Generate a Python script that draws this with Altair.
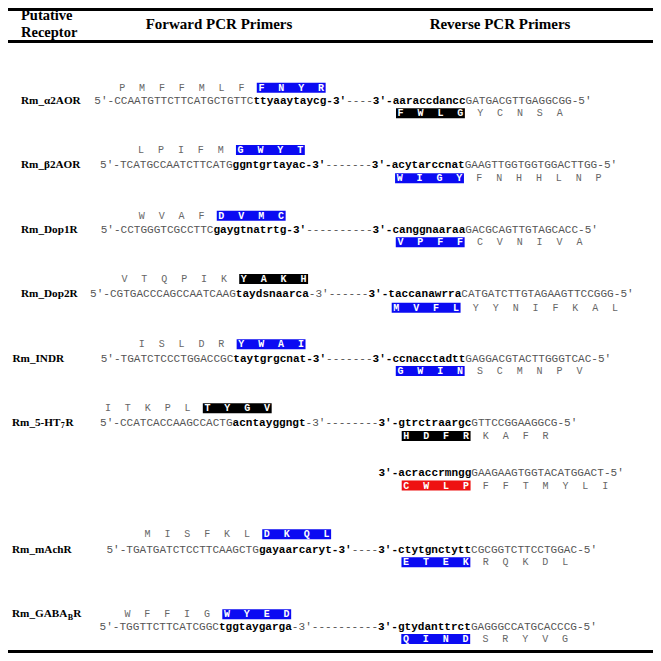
import altair as alt
import pandas as pd

# ---------------- data ----------------
FS = 11.05            # monospace font size
W = 0.6 * FS          # monospace advance width

header_left = ["Putative", "Receptor"]
header_cols = ["Forward PCR Primers", "Reverse PCR Primers"]

label_main = ["Rm_\u03b12AOR", "Rm_\u03b22AOR", "Rm_Dop1R", "Rm_Dop2R", "Rm_INDR", "Rm_5-HT", "Rm_mAchR", "Rm_GABA"]
label_sub = ["", "", "", "", "", "7", "", "B"]
label_tail = ["", "", "", "", "", "R", "", "R"]

fwd_upper = ["CCAATGTTCTTCATGCTGTTC", "TCATGCCAATCTTCATG", "CCTGGGTCGCCTTC", "CGTGACCCAGCCAATCAAG",
             "TGATCTCCCTGGACCGC", "CCATCACCAAGCCACTG", "TGATGATCTCCTTCAAGCTG", "TGGTTCTTCATCGGC"]
fwd_lower = ["ttyaaytaycg", "ggntgrtayac", "gaygtnatrtg", "taydsnaarca",
             "taytgrgcnat", "acntayggngt", "gayaarcaryt", "tggtaygarga"]
fwd_end_bold = [True, True, True, False, True, False, True, False]
dashes = [4, 7, 10, 6, 7, 8, 4, 10]
rev_lower = ["aaraccdancc", "acytarccnat", "canggnaaraa", "taccanawrra",
             "ccnacctadtt", "gtrctraargc", "ctytgnctytt", "gtydanttrct"]
rev_upper = ["GATGACGTTGAGGCGG", "GAAGTTGGTGGTGGACTTGG", "GACGCAGTTGTAGCACC", "CATGATCTTGTAGAAGTTCCGGG",
             "GAGGACGTACTTGGGTCAC", "GTTCCGGAAGGCG", "CGCGGTCTTCCTGGAC", "GAGGGCCATGCACCCG"]
fwd_aa = ["PMFFMLFFNYR", "LPIFMGWYT", "WVAFDVMC", "VTQPIKYAKH", "ISLDRYWAI", "ITKPLTYGV", "MISFKLDKQL", "WFFIGWYED"]
fwd_box = ["blue", "blue", "blue", "black", "blue", "black", "blue", "blue"]
rev_aa = ["FWLGYCNSA", "WIGYFNHHLNP", "VPFFCVNIVA", "MVFLYYNIFKAL", "GWINSCMNPV", "HDFRKAFR", "ETEKRQKDL", "QINDSRYVG"]
rev_box = ["black", "blue", "blue", "blue", "blue", "black", "blue", "blue"]

extra_lower = "acraccrmngg"
extra_upper = "GAAGAAGTGGTACATGGACT"
extra_aa = "CWLPFFTMYLI"
extra_box = "red"

# ---------------- layout (reference pixels) ----------------
line_x = [94.3, 100.0, 100.7, 90.0, 100.7, 100.0, 106.4, 99.6]
aa_start = [3, 5, 5, 4, 5, 0, 5, 3]
aa_y = [87.7, 150.0, 215.7, 279.0, 344.3, 408.3, 534.3, 614.3]
seq_y = [101.0, 165.0, 230.0, 294.0, 359.3, 422.7, 550.3, 626.7]
rev_aa_y = [113.3, 178.3, 242.3, 307.7, 371.0, 436.0, 562.3, 639.0]
label_x = [21, 21, 21, 21, 12.5, 12, 12, 12]
extra_seq_y = 472.7
extra_aa_y = 485.5

LAB_FS = 11.2
SUB_FS = 8
tnr_bold = {"R": .722, "m": .833, "_": .5, "5": .5, "-": .333, "H": .778, "T": .667,
            "G": .778, "A": .722, "B": .667}


def tw(s, fs):
    return sum(tnr_bold.get(c, .55) for c in s) * fs


texts = []
boxes = []


def add(x, y, t, s):
    texts.append(dict(x=x, y=y, t=t, s=s))


add(21, 15.5, header_left[0], "hdrL")
add(21, 32.5, header_left[1], "hdrL")
add(219, 24, header_cols[0], "hdrC")
add(500, 24, header_cols[1], "hdrC")


def aa_row(x0, start_idx, aas, y, boxed_idx, color):
    cs = [x0 + (start_idx + 3 * k + 1.2) * W for k in range(len(aas))]
    for k, ch in enumerate(aas):
        add(cs[k], y, ch, "aaB" if k in boxed_idx else "aaN")
    b0, b1 = min(boxed_idx), max(boxed_idx)
    boxes.append(dict(x=cs[b0] - 4.6, x2=cs[b1] + 4.6, y=y - 5, y2=y + 5, c=color))


for i in range(8):
    x0 = line_x[i]
    y = seq_y[i]
    segs = [("5\u2032-", "seqN"), (fwd_upper[i], "seqN"), (fwd_lower[i], "seqB"),
            ("-3\u2032", "seqB" if fwd_end_bold[i] else "seqN"), ("-" * dashes[i], "seqN"),
            ("3\u2032-", "seqB"), (rev_lower[i], "seqB"), (rev_upper[i], "seqN"), ("-5\u2032", "seqN")]
    pos = 0
    rev_start = None
    rev_codon = None
    for txt, st in segs:
        if txt == "3\u2032-":
            rev_start = pos
        if txt == rev_lower[i]:
            rev_codon = pos
        add(x0 + pos * W, y, txt, st)
        pos += len(txt)
    # labels
    ly = aa_y[i] if i == 7 else y
    add(label_x[i], ly, label_main[i], "lab")
    if label_sub[i]:
        wx = label_x[i] + tw(label_main[i], LAB_FS)
        add(wx + 0.3, ly + 3.5, label_sub[i], "sub")
        add(wx + tw(label_sub[i], SUB_FS) + 0.6, ly, label_tail[i], "lab")
    # amino acids
    n = len(fwd_aa[i])
    aa_row(x0, aa_start[i], fwd_aa[i], aa_y[i], list(range(n - 4, n)), fwd_box[i])
    aa_row(x0, rev_codon, rev_aa[i], rev_aa_y[i], [0, 1, 2, 3], rev_box[i])
    if i == 5:
        pos = rev_start
        for txt, st in [("3\u2032-", "seqB"), (extra_lower, "seqB"), (extra_upper, "seqN"), ("-5\u2032", "seqN")]:
            add(x0 + pos * W, extra_seq_y, txt, st)
            pos += len(txt)
        aa_row(x0, rev_start + 3, extra_aa, extra_aa_y, [0, 1, 2, 3], extra_box)

rules = pd.DataFrame([
    dict(x=8, x2=653, y=9.5),
    dict(x=8, x2=653, y=41.5),
    dict(x=8, x2=653, y=651.5),
])

tdf = pd.DataFrame(texts)
bdf = pd.DataFrame(boxes)

xs = alt.Scale(domain=[8, 653], nice=False, zero=False)
ys = alt.Scale(domain=[8, 653], nice=False, zero=False, reverse=True)
X = lambda f: alt.X(f, type="quantitative", scale=xs, axis=None)
Y = lambda f: alt.Y(f, type="quantitative", scale=ys, axis=None)

rule_layer = alt.Chart(rules).mark_rule(color="black", strokeWidth=3).encode(
    x=X("x"), x2="x2", y=Y("y"))

box_layer = alt.Chart(bdf).mark_rect().encode(
    x=X("x"), x2="x2", y=Y("y"), y2="y2",
    color=alt.Color("c:N", scale=alt.Scale(domain=["blue", "black", "red"],
                                          range=["#0b0bf2", "#000000", "#ee1111"]), legend=None))

styles = {
    "hdrL": dict(font="Liberation Serif", fontSize=14.5, fontWeight="bold", color="black", align="left"),
    "hdrC": dict(font="Liberation Serif", fontSize=15, fontWeight="bold", color="black", align="center"),
    "lab": dict(font="Liberation Serif", fontSize=LAB_FS, fontWeight="bold", color="black", align="left"),
    "sub": dict(font="Liberation Serif", fontSize=SUB_FS, fontWeight="bold", color="black", align="left"),
    "seqN": dict(font="Liberation Mono", fontSize=FS, color="#555555", align="left"),
    "seqB": dict(font="Liberation Mono", fontSize=FS, fontWeight="bold", color="black", align="left"),
    "aaN": dict(font="Liberation Mono", fontSize=10, color="#666666", align="center"),
    "aaB": dict(font="Liberation Mono", fontSize=10, fontWeight="bold", color="white", align="center"),
}

text_layers = []
for st, kw in styles.items():
    sub = tdf[tdf["s"] == st]
    text_layers.append(
        alt.Chart(sub).mark_text(baseline="middle", **kw).encode(x=X("x"), y=Y("y"), text="t:N"))

chart = alt.layer(rule_layer, box_layer, *text_layers).properties(
    width=645, height=645, padding=0,
    autosize=alt.AutoSizeParams(type="none"),
).configure_view(stroke=None)

chart.save("out.html", embed_options={"renderer": "svg", "actions": False})
